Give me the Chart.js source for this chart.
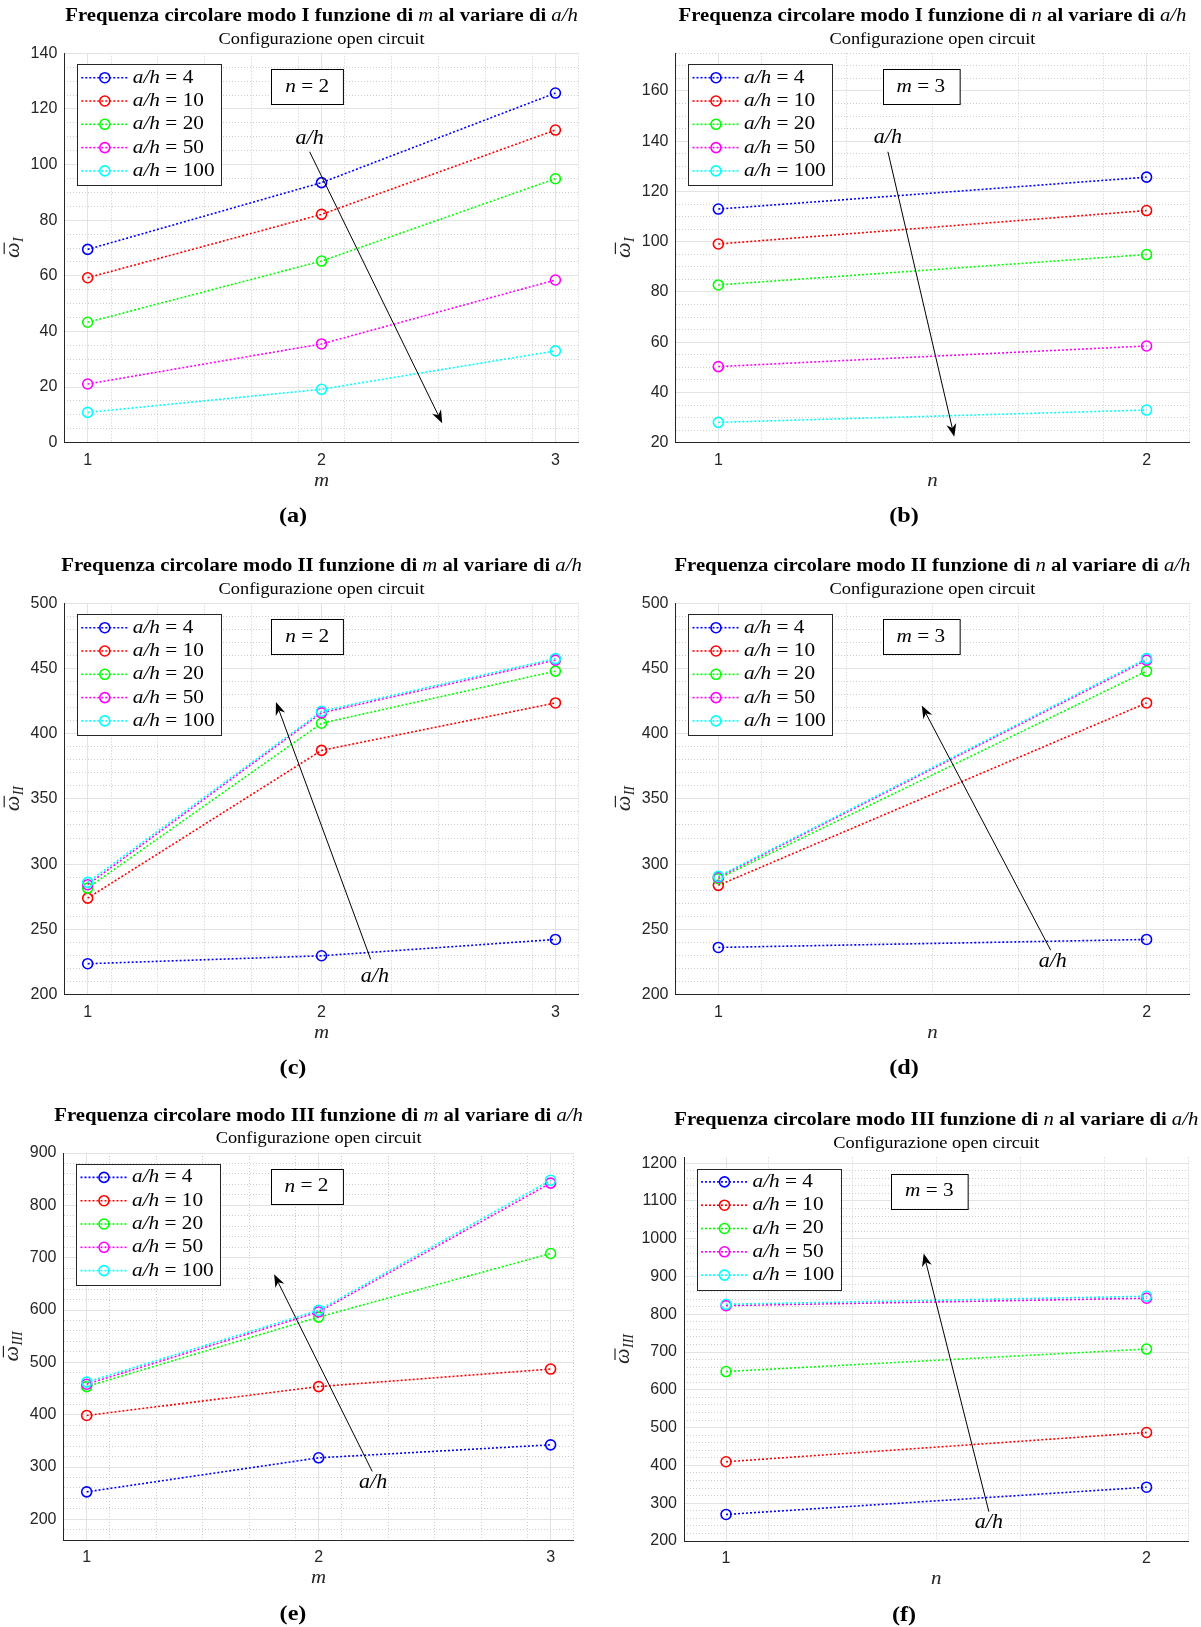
<!DOCTYPE html>
<html lang="it">
<head>
<meta charset="UTF-8">
<title>Frequenza circolare - configurazione open circuit</title>
<script src="https://cdn.jsdelivr.net/npm/chart.js@4.4.1/dist/chart.umd.min.js"></script>
<style>
  body { margin: 0; background: #fff; width: 1201px; height: 1627px; position: relative; overflow: hidden; }
  canvas { position: absolute; }
</style>
</head>
<body>
<canvas id="ga"></canvas>
<canvas id="gb"></canvas>
<canvas id="gc"></canvas>
<canvas id="gd"></canvas>
<canvas id="ge"></canvas>
<canvas id="gf"></canvas>
<script>
const SERIF = "'Liberation Serif', 'DejaVu Serif', serif";
const SANS = "'Liberation Sans', Arial, sans-serif";

// ---- dati ----
const rapportiAH = [4, 10, 20, 50, 100];
const coloriSerie = ['#0000ff', '#ff0000', '#00ff00', '#ff00ff', '#00ffff'];
const valoriM = [1, 2, 3];
const valoriN = [1, 2];

// una riga per ogni a/h (4, 10, 20, 50, 100)
const modoI_m   = [[69.5, 93.5, 125.7], [59.3, 82.1, 112.4], [43.3, 65.3, 94.9], [21.1, 35.5, 58.5], [10.9, 19.2, 33.0]];
const modoI_n   = [[113.0, 125.7], [99.1, 112.4], [82.8, 94.9], [50.3, 58.5], [28.1, 33.0]];
const modoII_m  = [[223.6, 229.7, 242.2], [273.9, 387.2, 423.6], [281.6, 408.0, 448.0], [284.2, 416.0, 456.4], [286.0, 417.2, 457.6]];
const modoII_n  = [[236.1, 242.2], [283.7, 423.6], [288.8, 448.0], [289.8, 456.4], [290.6, 457.6]];
const modoIII_m = [[252.6, 317.6, 342.4], [398.5, 453.7, 487.2], [453.7, 586.5, 708.0], [458.3, 596.3, 842.5], [462.3, 599.6, 847.8]];
const modoIII_n = [[270.2, 342.4], [409.7, 487.2], [648.5, 708.0], [823.0, 842.5], [826.5, 847.8]];

// ---- pannelli ----
const pannelli = [
  { id: 'ga', modo: 'I', variabile: 'm', xs: valoriM, serie: modoI_m, yMin: 0, yMax: 140, yPasso: 20, yMinore: 5,
    fisso: ['n', ' = 2'], freccia: [1.949, 104.6, 2.516, 7.0], etichetta: [1.949, 109.4], lettera: '(a)',
    tela: [0, 0, 600, 540], area: [64.3, 53.3, 578.8, 442.7] },
  { id: 'gb', modo: 'I', variabile: 'n', xs: valoriN, serie: modoI_n, yMin: 20, yMax: 175, yPasso: 20, yMinore: 5,
    fisso: ['m', ' = 3'], freccia: [1.396, 135.8, 1.551, 22.4], etichetta: [1.396, 141.3], lettera: '(b)',
    tela: [600, 0, 601, 540], area: [675.5, 53.3, 1189.4, 442.7] },
  { id: 'gc', modo: 'II', variabile: 'm', xs: valoriM, serie: modoII_m, yMin: 200, yMax: 500, yPasso: 50, yMinore: 10,
    fisso: ['n', ' = 2'], freccia: [2.21, 227, 1.805, 424.3], etichetta: [2.228, 213.4], lettera: '(c)',
    tela: [0, 530, 600, 555], area: [64.3, 603.3, 578.8, 994.5] },
  { id: 'gd', modo: 'II', variabile: 'n', xs: valoriN, serie: modoII_n, yMin: 200, yMax: 500, yPasso: 50, yMinore: 10,
    fisso: ['m', ' = 3'], freccia: [1.776, 234, 1.475, 421.6], etichetta: [1.781, 225.2], lettera: '(d)',
    tela: [600, 530, 601, 555], area: [675.5, 603.3, 1189.4, 994.5] },
  { id: 'ge', modo: 'III', variabile: 'm', xs: valoriM, serie: modoIII_m, yMin: 160, yMax: 900, yPasso: 100, yMinore: 20,
    fisso: ['n', ' = 2'], freccia: [2.231, 291.6, 1.808, 668.4], etichetta: [2.235, 270.6], lettera: '(e)',
    tela: [0, 1080, 600, 547], area: [63.5, 1153, 573.8, 1540.3] },
  { id: 'gf', modo: 'III', variabile: 'n', xs: valoriN, serie: modoIII_n, yMin: 200, yMax: 1215, yPasso: 100, yMinore: 20,
    fisso: ['m', ' = 3'], freccia: [1.625, 277.6, 1.47, 961], etichetta: [1.625, 247.6], lettera: '(f)',
    tela: [600, 1080, 601, 547], area: [684, 1157.5, 1188.6, 1541] }
];

const LARGHEZZA_Y = 50;
const ALTEZZA_X = 40;

// testo con pezzi di stile diverso; k allarga in orizzontale (imita il Computer Modern)
function testoMisto(ctx, pezzi, x, y, centrato, k) {
  k = k || 1;
  let larghezza = 0;
  pezzi.forEach(p => { ctx.font = p[1]; larghezza += ctx.measureText(p[0]).width * k; });
  let cx = centrato ? x - larghezza / 2 : x;
  pezzi.forEach(p => {
    ctx.font = p[1];
    ctx.save();
    ctx.translate(cx, y);
    ctx.scale(k, 1);
    ctx.fillText(p[0], 0, 0);
    ctx.restore();
    cx += ctx.measureText(p[0]).width * k;
  });
  return larghezza;
}

function disegnaFreccia(ctx, x0, y0, x1, y1) {
  const ang = Math.atan2(y1 - y0, x1 - x0);
  const lung = 13, semi = 5, tacca = 9;
  ctx.strokeStyle = '#000';
  ctx.lineWidth = 1;
  ctx.beginPath();
  ctx.moveTo(x0, y0);
  ctx.lineTo(x1 - Math.cos(ang) * tacca, y1 - Math.sin(ang) * tacca);
  ctx.stroke();
  const bx = x1 - Math.cos(ang) * lung, by = y1 - Math.sin(ang) * lung;
  const px = -Math.sin(ang) * semi, py = Math.cos(ang) * semi;
  ctx.fillStyle = '#000';
  ctx.beginPath();
  ctx.moveTo(x1, y1);
  ctx.lineTo(bx + px, by + py);
  ctx.lineTo(x1 - Math.cos(ang) * tacca, y1 - Math.sin(ang) * tacca);
  ctx.lineTo(bx - px, by - py);
  ctx.closePath();
  ctx.fill();
}

const decorazioni = {
  id: 'decorazioni',
  afterDraw(chart, args, p) {
    const ctx = chart.ctx;
    const a = chart.chartArea;
    const sx = chart.scales.x, sy = chart.scales.y;
    const cxArea = (a.left + a.right) / 2;
    ctx.save();
    ctx.textBaseline = 'middle';
    ctx.textAlign = 'left';

    // titolo
    ctx.fillStyle = '#000';
    testoMisto(ctx, [
      ['Frequenza circolare modo ' + p.modo + ' funzione di ', 'bold 18px ' + SERIF],
      [p.variabile, 'italic 18px ' + SERIF],
      [' al variare di ', 'bold 18px ' + SERIF],
      ['a/h', 'italic 18px ' + SERIF]
    ], cxArea, a.top - 37, true, 1.15);
    testoMisto(ctx, [['Configurazione open circuit', '17px ' + SERIF]], cxArea, a.top - 14, true, 1.08);

    // etichetta asse x
    ctx.fillStyle = '#262626';
    testoMisto(ctx, [[p.variabile, 'italic 19px ' + SERIF]], cxArea, a.bottom + 38, true, 1.1);

    // etichetta asse y
    ctx.font = '16px ' + SANS;
    let maxTick = 0;
    sy.ticks.forEach(t => { maxTick = Math.max(maxTick, ctx.measureText(String(t.label)).width); });
    const yl = a.left - 7 - maxTick - 17;
    ctx.save();
    ctx.translate(yl, (a.top + a.bottom) / 2);
    ctx.rotate(-Math.PI / 2);
    ctx.textBaseline = 'alphabetic';
    ctx.font = 'italic 22px ' + SERIF;
    const wO = ctx.measureText('ω').width;
    ctx.font = 'italic 14px ' + SERIF;
    const wS = ctx.measureText(p.modo).width;
    const x0 = -(wO + wS) / 2;
    ctx.font = 'italic 22px ' + SERIF;
    ctx.fillText('ω', x0, 5);
    ctx.fillRect(x0 + 4, 5 - 15, wO - 4, 1.2);
    ctx.font = 'italic 14px ' + SERIF;
    ctx.fillText(p.modo, x0 + wO + 0.5, 9);
    ctx.restore();

    // legenda
    const lx = a.left + 12.5, ly = a.top + 11, lw = 144, lh = 121;
    ctx.fillStyle = '#fff';
    ctx.fillRect(lx, ly, lw, lh);
    ctx.strokeStyle = '#262626';
    ctx.lineWidth = 1;
    ctx.strokeRect(Math.round(lx) + 0.5, Math.round(ly) + 0.5, lw, lh);
    chart.data.datasets.forEach((ds, i) => {
      const ry = ly + 13.4 + i * 23.3;
      ctx.strokeStyle = ds.borderColor;
      ctx.lineWidth = 1.6;
      ctx.setLineDash([2, 2]);
      ctx.beginPath();
      ctx.moveTo(lx + 4.5, ry);
      ctx.lineTo(lx + 52, ry);
      ctx.stroke();
      ctx.setLineDash([]);
      ctx.beginPath();
      ctx.arc(lx + 28, ry, 5, 0, Math.PI * 2);
      ctx.stroke();
      ctx.fillStyle = '#000';
      testoMisto(ctx, [['a/h', 'italic 19px ' + SERIF], [' = ' + rapportiAH[i], '19px ' + SERIF]], lx + 56, ry, false, 1.12);
    });

    // riquadro valore fisso
    ctx.font = 'italic 19px ' + SERIF;
    let wf = ctx.measureText(p.fisso[0]).width;
    ctx.font = '19px ' + SERIF;
    wf += ctx.measureText(p.fisso[1]).width;
    wf *= 1.12;
    const bx = a.left + 207, by = a.top + 16, bw = wf + 28, bh = 35;
    ctx.fillStyle = '#fff';
    ctx.fillRect(bx, by, bw, bh);
    ctx.strokeStyle = '#000';
    ctx.lineWidth = 1;
    ctx.strokeRect(Math.round(bx) + 0.5, Math.round(by) + 0.5, bw, bh);
    ctx.fillStyle = '#000';
    testoMisto(ctx, [[p.fisso[0], 'italic 19px ' + SERIF], [p.fisso[1], '19px ' + SERIF]], bx + bw / 2, by + bh / 2, true, 1.12);

    // freccia a/h
    const f = p.freccia;
    disegnaFreccia(ctx, sx.getPixelForValue(f[0]), sy.getPixelForValue(f[1]),
                        sx.getPixelForValue(f[2]), sy.getPixelForValue(f[3]));
    ctx.fillStyle = '#000';
    testoMisto(ctx, [['a/h', 'italic 20px ' + SERIF]],
      sx.getPixelForValue(p.etichetta[0]), sy.getPixelForValue(p.etichetta[1]), true, 1.1);

    // lettera del pannello
    const colonnaDestra = p.tela[0] > 0;
    testoMisto(ctx, [[p.lettera, 'bold 22px ' + SERIF]],
      colonnaDestra ? 304 : 293, a.bottom + 74, true, 1.1);

    ctx.restore();
  }
};

function creaGrafico(p) {
  const [tx, ty, tw, th] = p.tela;
  const [L, T, R, B] = p.area;
  const canvas = document.getElementById(p.id);
  canvas.width = tw;
  canvas.height = th;
  canvas.style.left = tx + 'px';
  canvas.style.top = ty + 'px';

  const datasets = p.serie.map((valori, i) => ({
    label: 'a/h = ' + rapportiAH[i],
    data: p.xs.map((x, k) => ({ x: x, y: valori[k] })),
    borderColor: coloriSerie[i],
    backgroundColor: 'rgba(0,0,0,0)',
    borderWidth: 1.6,
    borderDash: [2, 2],
    pointRadius: 5,
    pointBorderWidth: 1.6,
    pointBackgroundColor: 'rgba(0,0,0,0)',
    tension: 0,
    order: p.serie.length - i
  }));

  const xMax = p.xs[p.xs.length - 1] + 0.1;
  const soloNumero = v => String(v);

  new Chart(canvas.getContext('2d'), {
    type: 'line',
    data: { datasets: datasets },
    options: {
      responsive: false,
      animation: false,
      devicePixelRatio: 1,
      layout: {
        padding: { left: L - tx - LARGHEZZA_Y, top: T - ty, right: tx + tw - R, bottom: ty + th - B - ALTEZZA_X }
      },
      plugins: { legend: { display: false }, tooltip: { enabled: false }, decorazioni: p },
      scales: {
        xm: {
          type: 'linear', axis: 'x', position: 'bottom', min: 0.9, max: xMax,
          ticks: { display: false, stepSize: 0.2, includeBounds: false },
          grid: { color: '#cdcdcd', lineWidth: 1, drawTicks: false },
          border: { display: false, dash: [1, 2] },
          afterFit: s => { s.height = 0; }
        },
        ym: {
          type: 'linear', axis: 'y', position: 'left', min: p.yMin, max: p.yMax,
          ticks: { display: false, stepSize: p.yMinore, includeBounds: false },
          grid: { color: '#cdcdcd', lineWidth: 1, drawTicks: false },
          border: { display: false, dash: [1, 2] },
          afterFit: s => { s.width = 0; }
        },
        x: {
          type: 'linear', position: 'bottom', min: 0.9, max: xMax,
          ticks: { stepSize: 1, includeBounds: false, padding: 8, color: '#262626', font: { family: SANS, size: 16 }, callback: soloNumero },
          grid: { color: '#e3e3e3', lineWidth: 1, drawTicks: false },
          border: { display: true, color: '#262626', width: 1, z: 1 },
          afterFit: s => { s.height = ALTEZZA_X; }
        },
        y: {
          type: 'linear', position: 'left', min: p.yMin, max: p.yMax,
          ticks: { stepSize: p.yPasso, includeBounds: false, padding: 7, color: '#262626', font: { family: SANS, size: 16 }, callback: soloNumero },
          grid: { color: '#e3e3e3', lineWidth: 1, drawTicks: false },
          border: { display: true, color: '#262626', width: 1, z: 1 },
          afterFit: s => { s.width = LARGHEZZA_Y; }
        }
      }
    },
    plugins: [decorazioni]
  });
}

pannelli.forEach(creaGrafico);
</script>
</body>
</html>
